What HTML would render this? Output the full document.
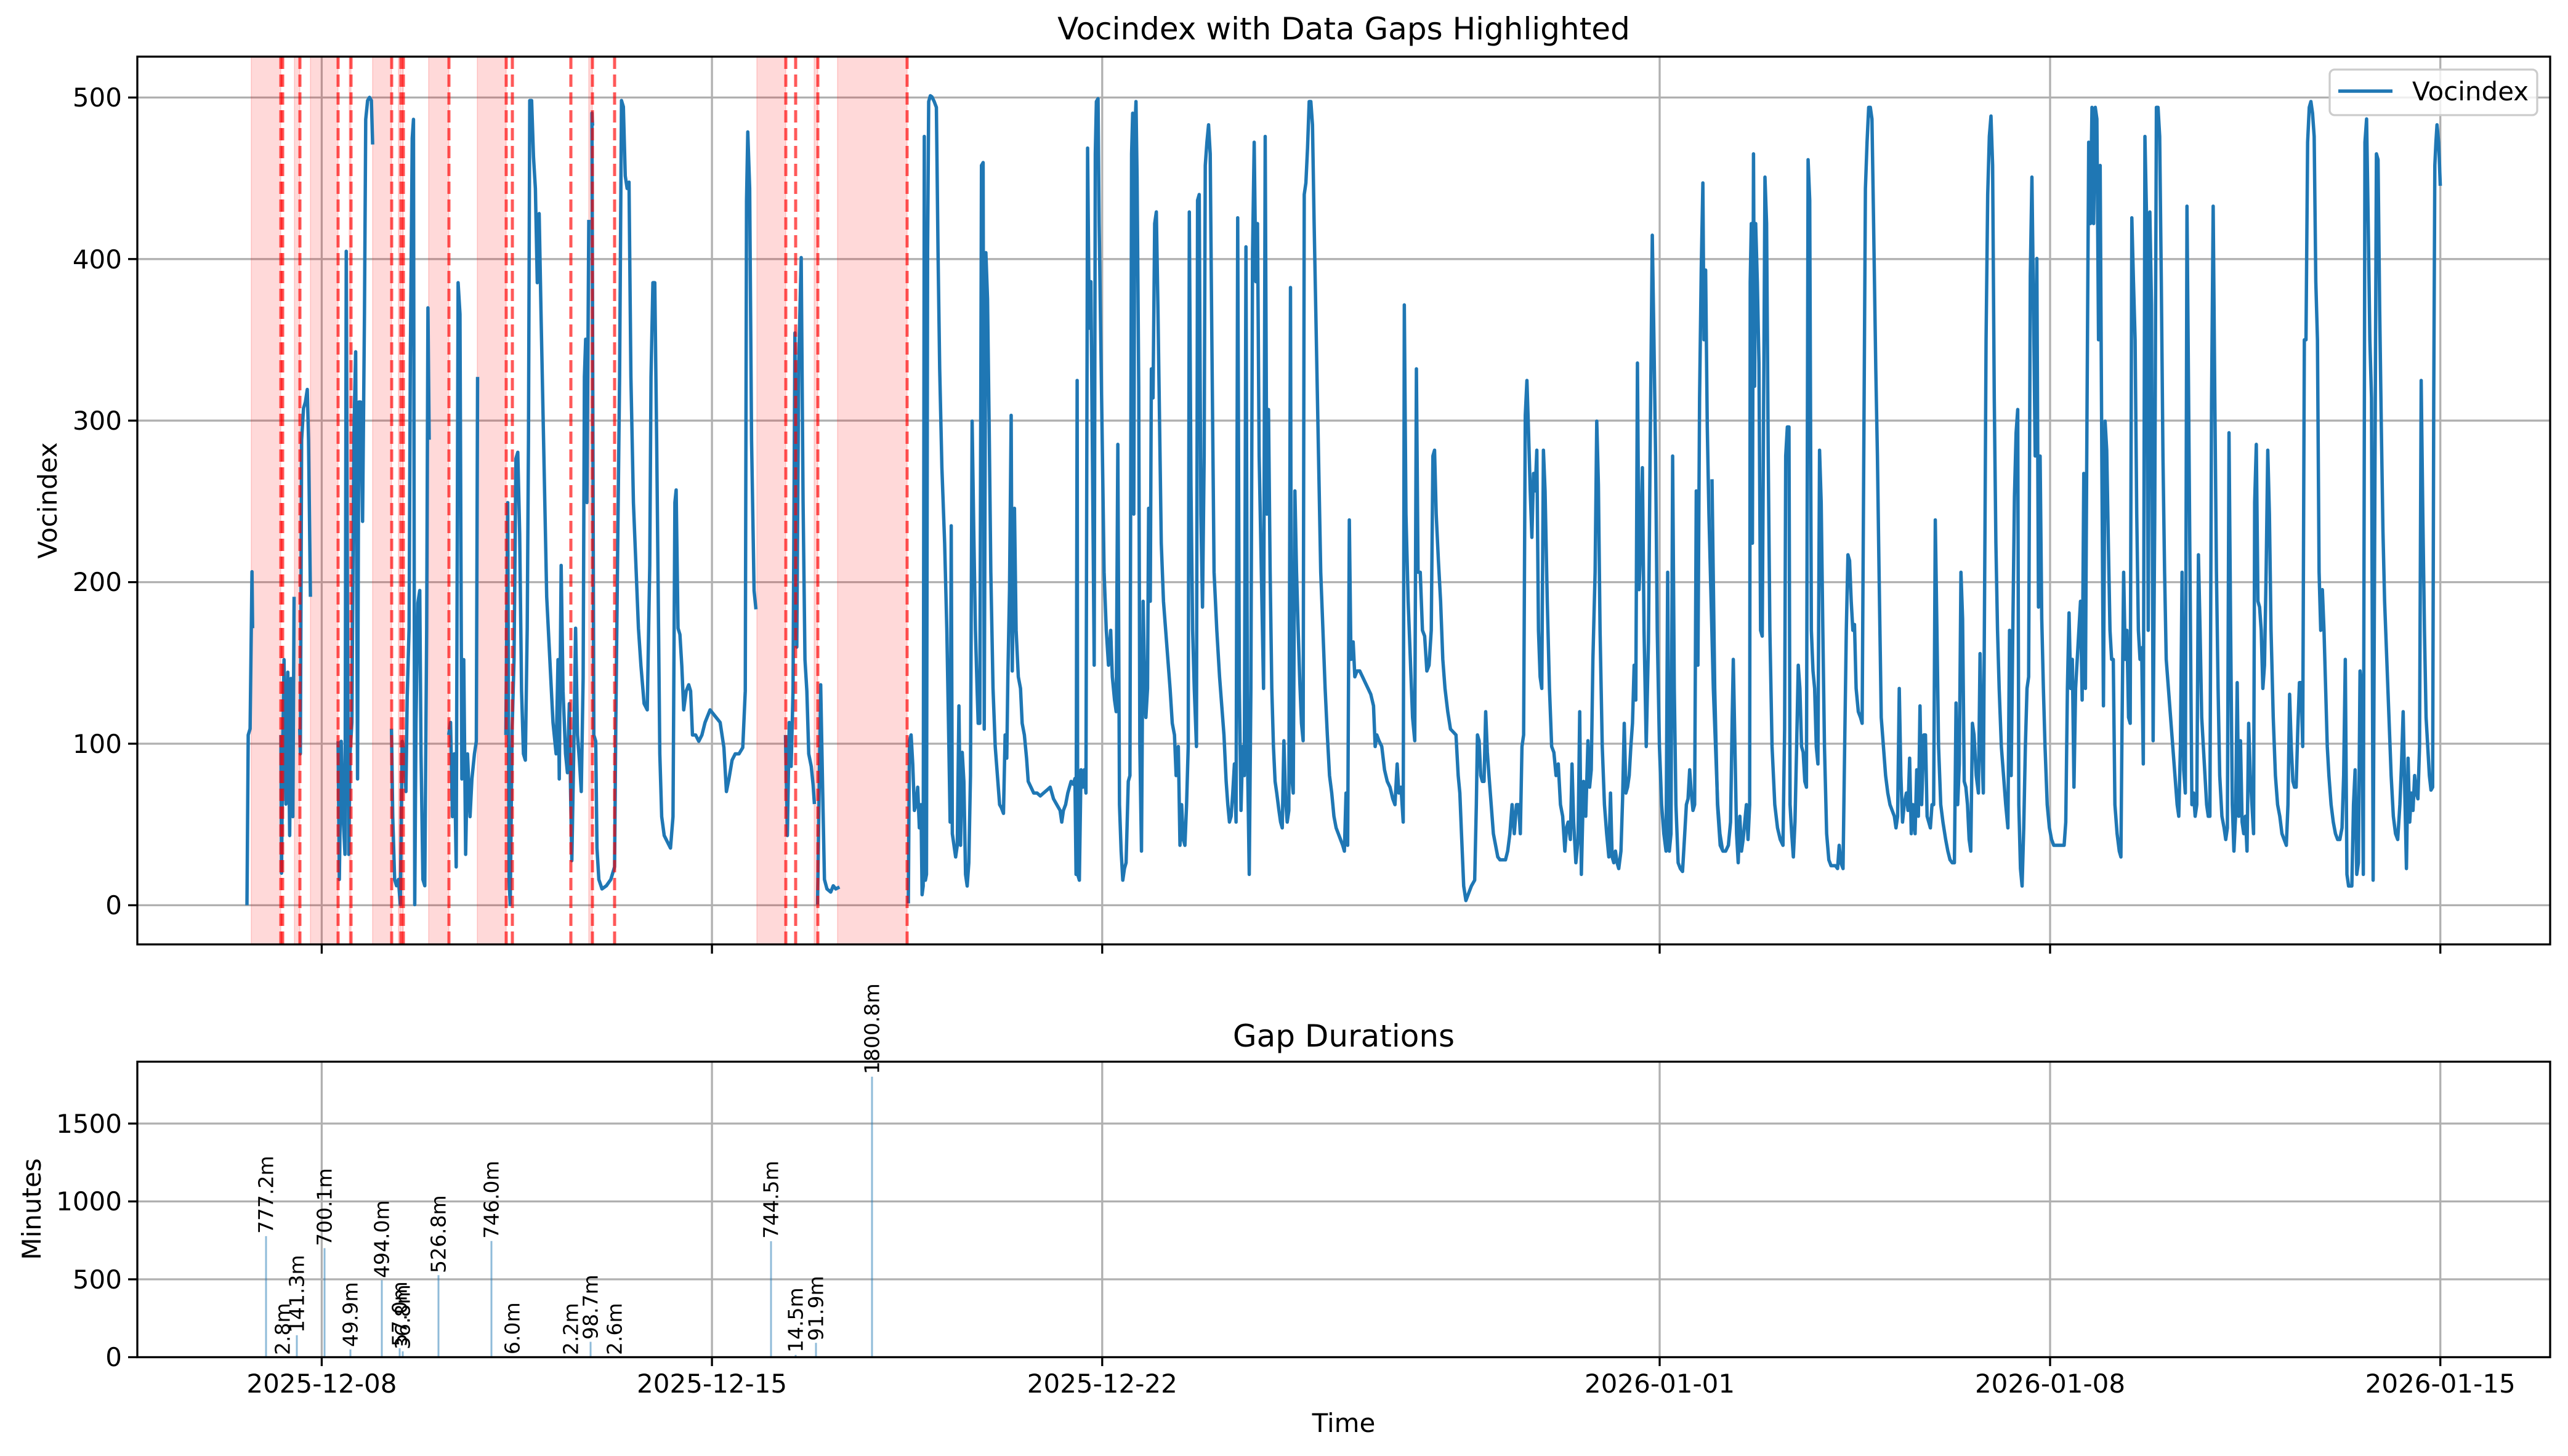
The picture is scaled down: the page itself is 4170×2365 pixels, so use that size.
<!DOCTYPE html>
<html><head><meta charset="utf-8"><style>
html,body{margin:0;padding:0;background:#fff}
svg{display:block}
text{font-family:"DejaVu Sans","Liberation Sans",sans-serif;fill:#000}
</style></head><body>
<svg xmlns="http://www.w3.org/2000/svg" width="4170" height="2365" viewBox="0 0 4170 2365">
<defs><clipPath id="c1"><rect x="223" y="92" width="3918" height="1442"/></clipPath></defs>
<rect width="4170" height="2365" fill="#fff"/>
<g stroke="#b0b0b0" stroke-width="3.3">
<line x1="223" x2="4141" y1="1470.4" y2="1470.4"/><line x1="223" x2="4141" y1="1208" y2="1208"/><line x1="223" x2="4141" y1="945.6" y2="945.6"/><line x1="223" x2="4141" y1="683.2" y2="683.2"/><line x1="223" x2="4141" y1="420.8" y2="420.8"/><line x1="223" x2="4141" y1="158.4" y2="158.4"/>
<line x1="522.4" x2="522.4" y1="92" y2="1534"/><line x1="1156.1" x2="1156.1" y1="92" y2="1534"/><line x1="1789.8" x2="1789.8" y1="92" y2="1534"/><line x1="2695" x2="2695" y1="92" y2="1534"/><line x1="3329" x2="3329" y1="92" y2="1534"/><line x1="3962.7" x2="3962.7" y1="92" y2="1534"/>
</g>
<g fill="#ff0000" fill-opacity="0.15" stroke="#ff0000" stroke-opacity="0.12" stroke-width="2">
<rect x="408" y="92" width="48" height="1442"/><rect x="478" y="92" width="9" height="1442"/><rect x="504" y="92" width="45" height="1442"/><rect x="567" y="92" width="3" height="1442"/><rect x="605" y="92" width="31" height="1442"/><rect x="647" y="92" width="4" height="1442"/><rect x="653" y="92" width="2" height="1442"/><rect x="696" y="92" width="33" height="1442"/><rect x="775" y="92" width="47" height="1442"/><rect x="956" y="92" width="6" height="1442"/><rect x="1229" y="92" width="47" height="1442"/><rect x="1322" y="92" width="6" height="1442"/><rect x="1360" y="92" width="113" height="1442"/>
</g>
<g clip-path="url(#c1)" fill="none" stroke="#1f77b4" stroke-width="5.5" stroke-linejoin="round">
<g transform="scale(1.0204)">
<polyline vector-effect="non-scaling-stroke" points="393,1441 395,1170 398,1160 401,910 402,1000"/>
<polyline vector-effect="non-scaling-stroke" points="447,1170 448,1390 450,1180 452,1050 455,1280 458,1070 461,1330 463,1080 466,1300 468,950"/>
<polyline vector-effect="non-scaling-stroke" points="477,1160 478,1200 480,700 483,650 486,640 489,620 491,700 494,950"/>
<polyline vector-effect="non-scaling-stroke" points="538,1180 540,1400 543,1180 546,1300 549,1360 551,400 553,1000 555,1360 557,1200 560,1150 563,700 566,560 569,1240 571,640 574,640 577,830 580,500 582,190 585,160 588,155 591,160 593,230"/>
<polyline vector-effect="non-scaling-stroke" points="623,1160 625,1300 628,1400 631,1410 634,1400 637,1440 640,1180 643,1200 646,1260 648,1110 651,1000 653,570 656,220 658,190 660,1440 662,1150 665,960 668,940 670,1200 673,1400 676,1410 679,1000 681,490 683,700"/>
<polyline vector-effect="non-scaling-stroke" points="714,1170 717,1150 720,1300 723,1200 726,1380 729,450 732,500 735,1240 738,1050 741,1360 744,1200 748,1300 751,1240 755,1200 758,1180 760,600"/>
<polyline vector-effect="non-scaling-stroke" points="805,1170 808,800 810,1400 812,1440 815,1160 818,1050 821,730 824,720 827,850 830,1100 833,1200 836,1210 839,1000 841,700 843,160 846,160 849,250 852,300 855,450 858,340 861,500 865,700 870,950 875,1050 880,1150 885,1200 888,1050 890,1240 893,900 896,1100 900,1200 903,1230 906,1120 908,1260 910,1370 913,1200 916,1000 919,1170 922,1210 925,1260 928,1080 930,600 932,540 934,800 937,350"/>
<polyline vector-effect="non-scaling-stroke" points="943,200 942,180 945,1170 948,1180 950,1350 953,1400 958,1415 965,1410 972,1400 978,1380 980,1150 983,870 986,600 989,160 992,170 995,280 998,300 1001,290 1004,600 1008,800 1012,900 1016,1000 1020,1060 1025,1120 1030,1130 1034,900 1036,600 1039,450 1042,450 1045,700 1048,1000 1050,1200 1053,1300 1057,1330 1062,1340 1067,1350 1071,1300 1074,800 1076,780 1079,1000 1082,1010 1085,1060 1088,1130 1092,1100 1096,1090 1099,1100 1102,1170 1107,1170 1112,1180 1117,1170 1122,1150 1130,1130 1138,1140 1146,1150 1152,1190 1156,1260 1160,1240 1165,1210 1170,1200 1176,1200 1182,1190 1186,1100 1188,320 1190,210 1193,300 1196,700 1200,940 1203,970"/>
<polyline vector-effect="non-scaling-stroke" points="1250,1170 1253,1330 1256,1150 1259,1220 1262,1100 1265,530 1268,1030 1271,580 1275,410 1278,800 1281,1050 1284,1100 1287,1200 1291,1220 1294,1250 1296,1280"/>
<polyline vector-effect="non-scaling-stroke" points="1301,1440 1303,1300 1306,1090 1309,1250 1312,1400 1316,1415 1322,1420 1326,1410 1330,1415 1336,1412"/>
</g>
<polyline vector-effect="non-scaling-stroke" transform="translate(1400,80) scale(0.89286,0.94384)" points="84,1470 86,1190 89,1180 92,1230 95,1310 98,1300 101,1270 104,1340 107,1300 109,1455 111,1440 113,150 115,1430 117,1420 119,350 121,90 124,80 127,82 131,90 135,100 138,350 141,550 145,720 150,850 154,1000 157,1160 160,1330 162,820 164,1350 167,1370 170,1390 173,1370 176,1130 179,1370 182,1210 185,1260 188,1420 191,1440 194,1400 197,1250 200,640 203,830 206,1000 209,1100 211,1160 214,1160 217,200 220,195 222,1170 225,350 228,430 231,650 234,900 238,1100 242,1200 246,1250 250,1300 253,1305 257,1315 260,1180 263,1220 265,1080 268,930 271,630 273,1070 277,790 280,1000 284,1080 288,1100 291,1160 295,1180 299,1220 302,1260 307,1270 312,1280 318,1280 324,1285 330,1280 336,1275 342,1270 348,1290 354,1300 360,1310 363,1330 366,1310 370,1300 374,1280 377,1270 380,1260 384,1265 387,1255 389,1420 391,570 392,1420 395,1430 398,1240 401,1270 404,1240 407,1280 410,170 413,480 416,400 419,720 422,1060 424,180 426,90 429,85 431,300 434,500 437,700 440,900 444,1000 448,1060 452,1000 455,1080 459,1120 462,1140 465,680 468,1300 471,1380 474,1430 477,1410 480,1400 484,1260 487,1250 490,180 492,110 494,800 496,140 498,90 500,220 503,580 505,1200 508,1380 511,950 513,1050 516,1150 519,1100 521,790 524,950 526,550 529,600 532,300 535,280 538,450 541,650 544,850 548,950 552,1000 556,1050 560,1100 564,1160 568,1180 571,1250 575,1200 578,1370 581,1300 584,1360 587,1370 590,1300 593,1200 595,280 598,750 601,1000 604,1100 608,1200 610,260 613,250 616,800 619,960 622,700 624,200 627,160 630,130 633,180 636,500 640,900 645,1000 650,1080 654,1130 658,1180 662,1260 665,1300 668,1330 671,1320 674,1280 677,1230 680,1330 683,290 686,1100 689,1310 692,1200 695,1250 698,340 701,1230 704,1420 707,1100 710,350 713,160 716,400 719,300 722,700 726,900 730,1100 733,150 736,800 739,620 742,900 745,1100 748,1200 751,1260 754,1280 758,1310 761,1330 764,1340 767,1190 770,1290 773,1330 776,1310 779,410 781,1250 784,1280 787,760 790,900 793,1000 796,1090 799,1160 802,1190 804,250 807,230 810,170 813,90 816,90 819,130 822,300 826,500 830,700 834,900 838,1000 842,1100 846,1180 850,1250 854,1280 858,1320 862,1340 866,1350 870,1360 874,1370 877,1380 880,1280 883,1370 886,810 889,1050 893,1020 896,1080 900,1070 905,1070 910,1080 915,1090 920,1100 925,1110 930,1130 933,1200 936,1180 940,1190 945,1200 950,1240 955,1260 960,1270 965,1290 969,1300 973,1230 976,1280 980,1270 984,1330 986,440 989,800 993,950 997,1050 1001,1150 1005,1190 1008,550 1011,900 1015,900 1019,1000 1023,1010 1027,1070 1031,1060 1035,1000 1038,700 1041,690 1044,800 1048,880 1052,950 1056,1050 1060,1100 1065,1140 1070,1170 1075,1175 1080,1180 1084,1250 1087,1280 1090,1350 1094,1440 1098,1465 1102,1455 1108,1440 1114,1430 1117,1300 1119,1180 1122,1190 1125,1250 1128,1260 1131,1260 1134,1140 1137,1210 1140,1250 1144,1300 1148,1350 1152,1370 1156,1390 1160,1395 1165,1395 1170,1395 1174,1380 1178,1350 1182,1300 1186,1350 1190,1300 1194,1300 1197,1350 1200,1200 1203,1180 1206,630 1209,570 1212,660 1215,760 1218,840 1221,730 1224,760 1227,690 1230,1000 1233,1080 1236,1100 1239,690 1242,760 1246,950 1250,1100 1254,1200 1258,1210 1262,1250 1266,1230 1270,1300 1274,1320 1278,1380 1281,1340 1284,1330 1288,1360 1291,1230 1294,1330 1298,1400 1302,1360 1305,1140 1308,1420 1312,1260 1316,1320 1320,1190 1323,1270 1326,1240 1329,1050 1333,900 1336,640 1339,750 1342,1000 1346,1200 1350,1300 1354,1350 1358,1390 1361,1280 1364,1390 1367,1400 1370,1380 1373,1400 1376,1410 1380,1380 1383,1290 1386,1160 1389,1280 1392,1270 1395,1250 1398,1200 1401,1160 1404,1060 1407,1120 1410,540 1413,930 1416,850 1419,720 1422,1000 1426,1200 1430,1020 1433,700 1437,320 1440,500 1443,700 1446,1000 1450,1200 1454,1300 1458,1350 1462,1380 1465,900 1468,1380 1471,1350 1474,700 1477,1100 1480,1300 1484,1400 1488,1410 1492,1415 1496,1350 1499,1300 1502,1290 1505,1240 1508,1280 1511,1310 1514,1300 1517,760 1520,1060 1523,600 1526,380 1529,230 1531,500 1534,380 1537,650 1540,800 1544,950 1548,1100 1552,1200 1556,1300 1560,1350 1565,1380"/>
<polyline vector-effect="non-scaling-stroke" transform="translate(2780,80) scale(0.88652,0.94384)" points="0,740 5,1100 10,1300 15,1370 20,1380 25,1380 30,1370 34,1330 37,1150 39,1050 42,1200 45,1350 48,1400 51,1320 54,1380 57,1360 60,1330 63,1300 66,1360 69,1300 70,400 72,300 74,850 76,180 78,580 80,300 83,400 86,540 89,1000 92,1010 95,550 97,220 100,300 103,700 106,1000 110,1200 115,1300 120,1340 125,1360 130,1370 133,1170 135,700 138,650 141,650 143,1300 146,1350 149,1390 152,1330 155,1200 158,1060 161,1100 164,1200 167,1210 170,1260 173,1270 176,190 179,260 182,1000 185,1070 188,1100 191,1200 194,1230 197,690 200,780 203,1000 206,1200 210,1350 214,1395 218,1405 222,1405 226,1405 230,1410 233,1370 236,1400 240,1410 243,1200 246,1000 249,870 252,880 255,950 258,1000 261,990 264,1100 268,1140 272,1150 275,1160 278,700 281,240 284,160 287,100 290,100 293,120 296,300 300,550 303,700 306,900 310,1150 314,1200 318,1250 322,1280 326,1300 330,1310 334,1320 337,1340 340,1320 343,1100 346,1250 349,1330 352,1300 356,1280 359,1310 362,1220 365,1350 368,1300 372,1350 375,1240 378,1320 381,1130 384,1300 388,1180 391,1180 394,1320 397,1330 400,1340 403,1300 406,1300 409,810 412,1000 415,1200 419,1300 423,1330 428,1360 432,1380 436,1395 440,1400 444,1400 447,1125 450,1300 453,1230 456,900 459,980 462,1260 465,1270 468,1300 471,1360 474,1380 477,1160 480,1180 484,1250 488,1280 491,1040 494,1200 497,1280 500,830 502,500 505,250 508,150 511,115 514,200 517,600 520,850 523,1000 526,1100 530,1200 534,1250 538,1300 542,1340 545,1000 548,1250 551,1000 554,770 557,660 560,620 562,1300 565,1410 568,1440 571,1340 574,1200 577,1100 580,1080 583,390 586,220 589,450 592,700 595,360 598,960 601,700 604,980 607,1100 610,1200 614,1300 618,1340 622,1360 626,1370 630,1370 635,1370 640,1370 645,1370 648,1330 651,1100 654,970 657,1100 660,1050 663,1270 666,1100 669,1050 672,1000 675,950 678,1120 681,730 684,1100 687,610 690,160 693,300 696,100 699,300 702,100 705,120 708,500 711,200 714,700 717,1130 720,640 723,690 726,850 729,1000 732,1050 735,1050 738,1300 742,1350 746,1380 749,1390 751,1170 754,900 757,1050 760,1000 763,1150 766,1160 769,290 772,400 775,500 778,800 781,1000 784,1050 787,1030 790,1230 793,150 796,290 799,1000 802,280 805,440 808,1190 811,800 814,100 817,100 820,150 823,400 826,700 829,900 832,1050 836,1100 840,1150 844,1200 848,1250 852,1300 855,1320 858,1200 861,900 864,1240 867,1280 870,270 873,600 876,950 879,1300 882,1280 885,1320 888,1300 891,870 894,1000 897,1150 900,1200 903,1250 906,1300 909,1320 912,1320 915,610 918,270 921,600 924,900 927,1100 930,1250 934,1320 938,1340 941,1360 944,1340 947,660 950,1000 953,1300 956,1380 959,1320 962,1090 965,1320 968,1190 971,1330 974,1350 977,1320 980,1380 983,1160 986,1250 989,1300 992,1350 994,780 997,680 1000,950 1003,960 1006,1000 1009,1100 1012,1060 1015,900 1018,690 1021,800 1024,1000 1028,1150 1032,1250 1036,1300 1040,1320 1044,1350 1048,1360 1052,1370 1055,1300 1058,1110 1061,1200 1064,1260 1067,1270 1070,1270 1073,1170 1076,1090 1079,1090 1082,1200 1085,500 1088,500 1091,160 1094,100 1097,90 1100,110 1103,150 1106,400 1109,500 1112,900 1115,1000 1118,930 1121,1000 1124,1100 1127,1200 1130,1250 1134,1300 1138,1330 1142,1350 1146,1360 1150,1360 1154,1340 1157,1250 1160,1050 1163,1420 1166,1440 1169,1440 1172,1440 1175,1300 1178,1240 1181,1420 1184,1400 1187,1070 1190,1100 1193,1420 1196,160 1199,120 1202,300 1205,500 1208,600 1211,1430 1214,800 1217,180 1220,190 1223,450 1226,650 1229,830 1232,950 1236,1050 1240,1150 1244,1250 1248,1320 1252,1350 1256,1360 1260,1300 1263,1230 1266,1140 1269,1280 1272,1410 1275,1220 1278,1330 1281,1280 1284,1310 1287,1250 1290,1280 1293,1290 1296,1200 1299,570 1302,800 1305,1000 1308,1150 1311,1200 1314,1250 1317,1275 1320,1270 1322,600 1324,200 1326,160 1328,130 1331,160 1334,235"/>
</g>
<g stroke="#ff0000" stroke-opacity="0.65" stroke-width="5" stroke-dasharray="20,9">
<line x1="456" x2="456" y1="92" y2="1534"/><line x1="459" x2="459" y1="92" y2="1534"/><line x1="487" x2="487" y1="92" y2="1534"/><line x1="549" x2="549" y1="92" y2="1534"/><line x1="570" x2="570" y1="92" y2="1534"/><line x1="636" x2="636" y1="92" y2="1534"/><line x1="651" x2="651" y1="92" y2="1534"/><line x1="655" x2="655" y1="92" y2="1534"/><line x1="729" x2="729" y1="92" y2="1534"/><line x1="822" x2="822" y1="92" y2="1534"/><line x1="832" x2="832" y1="92" y2="1534"/><line x1="927" x2="927" y1="92" y2="1534"/><line x1="962" x2="962" y1="92" y2="1534"/><line x1="998" x2="998" y1="92" y2="1534"/><line x1="1276" x2="1276" y1="92" y2="1534"/><line x1="1292" x2="1292" y1="92" y2="1534"/><line x1="1328" x2="1328" y1="92" y2="1534"/><line x1="1473" x2="1473" y1="92" y2="1534"/>
</g>
<rect x="223" y="92" width="3918" height="1442" fill="none" stroke="#000" stroke-width="3.3"/>
<g stroke="#000" stroke-width="3.3">
<line x1="208" x2="223" y1="1470.4" y2="1470.4"/><line x1="208" x2="223" y1="1208" y2="1208"/><line x1="208" x2="223" y1="945.6" y2="945.6"/><line x1="208" x2="223" y1="683.2" y2="683.2"/><line x1="208" x2="223" y1="420.8" y2="420.8"/><line x1="208" x2="223" y1="158.4" y2="158.4"/>
<line x1="522.4" x2="522.4" y1="1534" y2="1549"/><line x1="1156.1" x2="1156.1" y1="1534" y2="1549"/><line x1="1789.8" x2="1789.8" y1="1534" y2="1549"/><line x1="2695" x2="2695" y1="1534" y2="1549"/><line x1="3329" x2="3329" y1="1534" y2="1549"/><line x1="3962.7" x2="3962.7" y1="1534" y2="1549"/>
</g>
<g font-size="42" text-anchor="end">
<text x="198" y="1485">0</text><text x="198" y="1223">100</text><text x="198" y="960">200</text><text x="198" y="698">300</text><text x="198" y="436">400</text><text x="198" y="173">500</text>
</g>
<text x="2182" y="64" font-size="50" text-anchor="middle">Vocindex with Data Gaps Highlighted</text>
<text transform="translate(92,813) rotate(-90)" font-size="42" text-anchor="middle">Vocindex</text>
<rect x="3783" y="113" width="337" height="74" rx="8" fill="#fff" fill-opacity="0.8" stroke="#cccccc" stroke-width="3.3"/>
<line x1="3797" x2="3885" y1="148" y2="148" stroke="#1f77b4" stroke-width="5.5"/>
<text x="3917" y="163" font-size="42">Vocindex</text>

<g stroke="#b0b0b0" stroke-width="3.3">
<line x1="223" x2="4141" y1="2204.5" y2="2204.5"/><line x1="223" x2="4141" y1="2078" y2="2078"/><line x1="223" x2="4141" y1="1951.5" y2="1951.5"/><line x1="223" x2="4141" y1="1825" y2="1825"/>
<line x1="522.4" x2="522.4" y1="1724.5" y2="2204.5"/><line x1="1156.1" x2="1156.1" y1="1724.5" y2="2204.5"/><line x1="1789.8" x2="1789.8" y1="1724.5" y2="2204.5"/><line x1="2695" x2="2695" y1="1724.5" y2="2204.5"/><line x1="3329" x2="3329" y1="1724.5" y2="2204.5"/><line x1="3962.7" x2="3962.7" y1="1724.5" y2="2204.5"/>
</g>
<g stroke="#1f77b4" stroke-opacity="0.5" stroke-width="3">
<line x1="432" x2="432" y1="2204.5" y2="2007.9"/><line x1="482" x2="482" y1="2204.5" y2="2168.8"/><line x1="527" x2="527" y1="2204.5" y2="2027.4"/><line x1="569" x2="569" y1="2204.5" y2="2191.9"/><line x1="620" x2="620" y1="2204.5" y2="2079.5"/><line x1="649" x2="649" y1="2204.5" y2="2190"/><line x1="654" x2="654" y1="2204.5" y2="2195"/><line x1="712" x2="712" y1="2204.5" y2="2071.2"/><line x1="798" x2="798" y1="2204.5" y2="2015.8"/><line x1="959" x2="959" y1="2204.5" y2="2179.5"/><line x1="1252" x2="1252" y1="2204.5" y2="2016.1"/><line x1="1292" x2="1292" y1="2204.5" y2="2200.8"/><line x1="1325" x2="1325" y1="2204.5" y2="2181.2"/><line x1="1416" x2="1416" y1="2204.5" y2="1748.9"/>
</g>
<rect x="223" y="1724.5" width="3918" height="480" fill="none" stroke="#000" stroke-width="3.3"/>
<g stroke="#000" stroke-width="3.3">
<line x1="208" x2="223" y1="2204.5" y2="2204.5"/><line x1="208" x2="223" y1="2078" y2="2078"/><line x1="208" x2="223" y1="1951.5" y2="1951.5"/><line x1="208" x2="223" y1="1825" y2="1825"/>
<line x1="522.4" x2="522.4" y1="2204.5" y2="2219"/><line x1="1156.1" x2="1156.1" y1="2204.5" y2="2219"/><line x1="1789.8" x2="1789.8" y1="2204.5" y2="2219"/><line x1="2695" x2="2695" y1="2204.5" y2="2219"/><line x1="3329" x2="3329" y1="2204.5" y2="2219"/><line x1="3962.7" x2="3962.7" y1="2204.5" y2="2219"/>
</g>
<g font-size="42" text-anchor="end">
<text x="198" y="2219">0</text><text x="198" y="2093">500</text><text x="198" y="1966">1000</text><text x="198" y="1840">1500</text>
</g>
<g font-size="42" text-anchor="middle">
<text x="522.4" y="2262">2025-12-08</text><text x="1156.1" y="2262">2025-12-15</text><text x="1789.8" y="2262">2025-12-22</text><text x="2695" y="2262">2026-01-01</text><text x="3329" y="2262">2026-01-08</text><text x="3962.7" y="2262">2026-01-15</text>
</g>
<text x="2182" y="2326" font-size="42" text-anchor="middle">Time</text>
<text x="2182" y="1700" font-size="50" text-anchor="middle">Gap Durations</text>
<text transform="translate(66,1964) rotate(-90)" font-size="42" text-anchor="middle">Minutes</text>
<g font-size="33">
<text transform="translate(432,2004) rotate(-90)" dy="0.35em">777.2m</text>
<text transform="translate(459,2201) rotate(-90)" dy="0.35em">2.8m</text>
<text transform="translate(482,2165) rotate(-90)" dy="0.35em">141.3m</text>
<text transform="translate(527,2024) rotate(-90)" dy="0.35em">700.1m</text>
<text transform="translate(569,2188) rotate(-90)" dy="0.35em">49.9m</text>
<text transform="translate(620,2076) rotate(-90)" dy="0.35em">494.0m</text>
<text transform="translate(649,2187) rotate(-90)" dy="0.35em">57.0m</text>
<text transform="translate(654,2192) rotate(-90)" dy="0.35em">36.8m</text>
<text transform="translate(712,2068) rotate(-90)" dy="0.35em">526.8m</text>
<text transform="translate(798,2012) rotate(-90)" dy="0.35em">746.0m</text>
<text transform="translate(832,2200) rotate(-90)" dy="0.35em">6.0m</text>
<text transform="translate(927,2201) rotate(-90)" dy="0.35em">2.2m</text>
<text transform="translate(959,2176) rotate(-90)" dy="0.35em">98.7m</text>
<text transform="translate(998,2201) rotate(-90)" dy="0.35em">2.6m</text>
<text transform="translate(1252,2012) rotate(-90)" dy="0.35em">744.5m</text>
<text transform="translate(1292,2197) rotate(-90)" dy="0.35em">14.5m</text>
<text transform="translate(1325,2178) rotate(-90)" dy="0.35em">91.9m</text>
<text transform="translate(1416,1745) rotate(-90)" dy="0.35em">1800.8m</text>
</g>
</svg>
</body></html>
